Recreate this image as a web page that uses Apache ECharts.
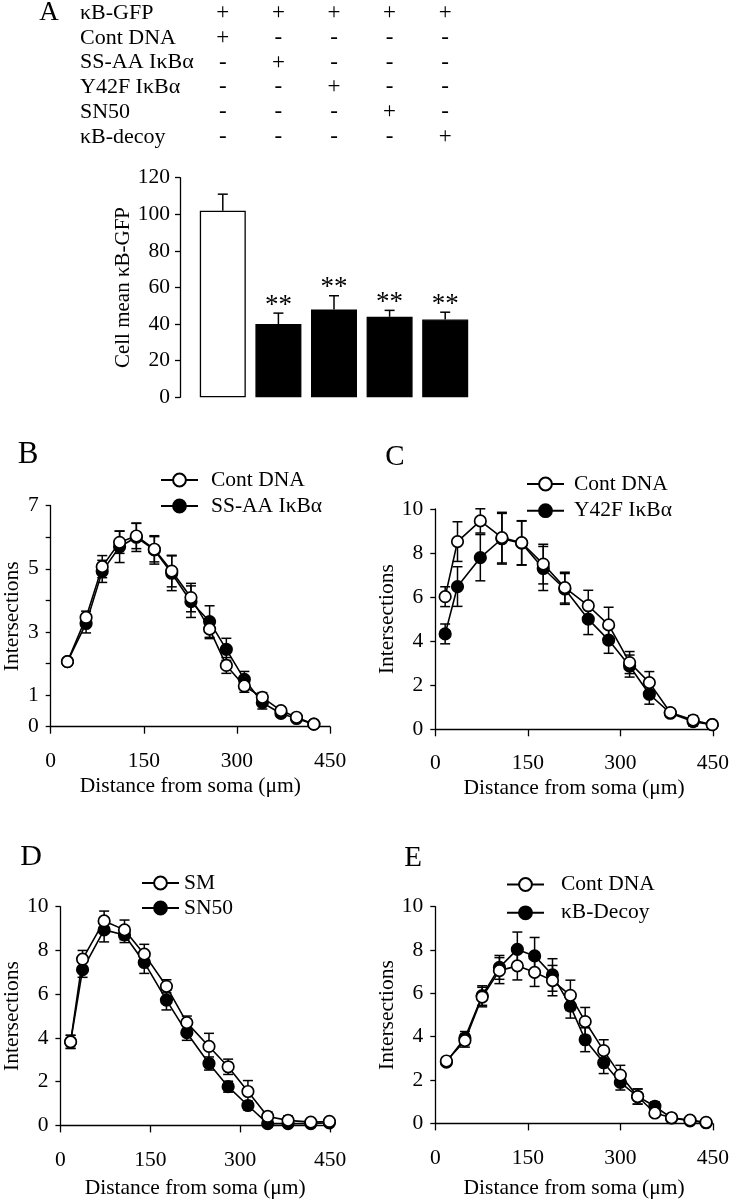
<!DOCTYPE html>
<html><head><meta charset="utf-8">
<script src="https://cdn.jsdelivr.net/npm/echarts@6/dist/echarts.min.js"></script>
<style>html,body{margin:0;padding:0;background:#fff}#c{width:732px;height:1200px}</style>
</head><body><div id="c"></div>
<script>
const FONT = '"Liberation Serif","Times New Roman",serif';

// ---- Panel A data ----
const aConditions = ['κB-GFP', 'Cont DNA', 'SS-AA IκBα', 'Y42F IκBα', 'SN50', 'κB-decoy'];
const aSigns = [
  ['+', '+', '+', '+', '+'],
  ['+', '-', '-', '-', '-'],
  ['-', '+', '-', '-', '-'],
  ['-', '-', '+', '-', '-'],
  ['-', '-', '-', '+', '-'],
  ['-', '-', '-', '-', '+']
];
const aGroups = ['Cont DNA', 'SS-AA IκBα', 'Y42F IκBα', 'SN50', 'κB-decoy'];
const aMeans = [102, 40, 48, 44, 42.5];
const aErr = [9, 6, 7.5, 3.5, 4];
const aSig = ['', '**', '**', '**', '**'];

// ---- Panel B data ----
const bDist = [27, 57, 83, 111, 138, 167, 195, 226, 256, 283, 312, 341, 371, 396, 424];
const bCont = [2.06, 3.46, 5.07, 5.84, 6.04, 5.62, 4.93, 4.09, 3.09, 1.94, 1.29, 0.93, 0.51, 0.30, 0.08];
const bContSE = [0.1, 0.2, 0.35, 0.35, 0.4, 0.4, 0.5, 0.45, 0.3, 0.25, 0.2, 0.15, 0.1, 0.08, 0.05];
const bSSAA = [2.06, 3.27, 4.92, 5.70, 6.0, 5.6, 4.86, 3.96, 3.33, 2.45, 1.5, 0.76, 0.42, 0.26, 0.08];
const bSSAASE = [0.1, 0.3, 0.35, 0.5, 0.45, 0.45, 0.55, 0.5, 0.5, 0.35, 0.25, 0.2, 0.12, 0.08, 0.05];
const bYTickLabels = [0, 1, 3, 5, 7];

// ---- Panel C data ----
const cDist = [16, 36, 73, 108, 140, 175, 210, 248, 281, 315, 347, 381, 418, 449];
const cCont = [6.02, 8.52, 9.46, 8.70, 8.47, 7.50, 6.43, 5.61, 4.74, 3.03, 2.12, 0.76, 0.42, 0.21];
const cContSE = [0.45, 0.9, 0.55, 1.15, 1.0, 0.9, 0.7, 0.7, 0.8, 0.5, 0.5, 0.15, 0.2, 0.15];
const cY42F = [4.33, 6.48, 7.79, 8.65, 8.45, 7.3, 6.37, 5.0, 4.05, 2.87, 1.59, 0.73, 0.35, 0.21];
const cY42FSE = [0.45, 0.9, 1.05, 1.15, 1.0, 1.0, 0.7, 0.7, 0.6, 0.5, 0.45, 0.15, 0.2, 0.15];

// ---- Panel D data ----
const dDist = [17, 37, 73, 107, 140, 177, 211, 248, 280, 313, 346, 380, 418, 449];
const dSM = [3.82, 7.6, 9.35, 8.94, 7.83, 6.36, 4.70, 3.61, 2.68, 1.55, 0.41, 0.23, 0.15, 0.18];
const dSMSE = [0.3, 0.4, 0.45, 0.45, 0.45, 0.3, 0.3, 0.6, 0.35, 0.5, 0.2, 0.2, 0.15, 0.12];
const dSN50 = [3.82, 7.12, 8.94, 8.71, 7.45, 5.73, 4.24, 2.83, 1.77, 0.91, 0.08, 0.08, 0.08, 0.12];
const dSN50SE = [0.3, 0.35, 0.55, 0.35, 0.5, 0.45, 0.35, 0.3, 0.25, 0.2, 0.15, 0.15, 0.15, 0.1];

// ---- Panel E data ----
const eDist = [18, 48, 76, 104, 133, 161, 190, 219, 243, 273, 300, 328, 356, 383, 413, 439];
const eCont = [2.88, 3.82, 5.83, 7.05, 7.27, 6.97, 6.59, 5.91, 4.70, 3.36, 2.23, 1.24, 0.48, 0.26, 0.15, 0.05];
const eContSE = [0.1, 0.3, 0.45, 0.6, 0.65, 0.65, 0.7, 0.7, 0.65, 0.5, 0.45, 0.35, 0.15, 0.1, 0.08, 0.08];
const eDecoy = [2.83, 3.94, 5.9, 7.2, 8.03, 7.73, 6.85, 5.41, 3.86, 2.80, 1.89, 1.24, 0.79, 0.25, 0.12, 0.03];
const eDecoySE = [0.1, 0.3, 0.45, 0.55, 0.8, 0.85, 0.75, 0.55, 0.55, 0.5, 0.35, 0.35, 0.2, 0.1, 0.08, 0.05];

const xTickValues = [0, 150, 300, 450];

// ---------------------------------------------------------------
const chart = echarts.init(document.getElementById('c'), null, {renderer: 'canvas'});
const BLACK = '#000';
const FS = 21.5;
const axisLine = {show: true, lineStyle: {color: BLACK, width: 1.3}};
const lblStyle = {color: BLACK, fontFamily: FONT, fontSize: FS};

function errRender(capHalf, upOnly, stars) {
  return function (params, api) {
    const x = api.value(0), y = api.value(1), e = api.value(2);
    const top = api.coord([x, y + e]);
    const bot = api.coord([x, upOnly ? y : y - e]);
    const st = {stroke: BLACK, lineWidth: 1.5};
    const ch = [
      {type: 'line', shape: {x1: top[0], y1: top[1], x2: bot[0], y2: bot[1]}, style: st},
      {type: 'line', shape: {x1: top[0] - capHalf, y1: top[1], x2: top[0] + capHalf, y2: top[1]}, style: st}
    ];
    if (!upOnly) ch.push({type: 'line', shape: {x1: bot[0] - capHalf, y1: bot[1], x2: bot[0] + capHalf, y2: bot[1]}, style: st});
    if (stars && stars[params.dataIndex]) {
      ch.push({type: 'text', style: {text: stars[params.dataIndex], x: top[0], y: top[1] + 6,
        align: 'center', verticalAlign: 'bottom', font: '27px ' + FONT, fill: BLACK}});
    }
    return {type: 'group', children: ch};
  };
}

function lineAxes(idx, cfg) {
  const x = {
    type: 'value', gridIndex: idx, min: 0, max: 450, interval: 150,
    offset: cfg.xOffset,
    axisLine: axisLine, axisTick: {show: true, inside: false, length: 7, lineStyle: {color: BLACK, width: 1.3}},
    axisLabel: Object.assign({margin: 11, formatter: v => xTickValues.includes(v) ? String(v) : ''}, lblStyle),
    splitLine: {show: false},
    name: 'Distance from soma (μm)', nameLocation: 'middle', nameGap: cfg.xNameGap,
    nameTextStyle: {color: BLACK, fontFamily: FONT, fontSize: FS}
  };
  const y = {
    type: 'value', gridIndex: idx, min: 0, max: cfg.yMax, interval: cfg.yInt,
    axisLine: axisLine, axisTick: {show: true, inside: false, length: 5, lineStyle: {color: BLACK, width: 1.3}},
    axisLabel: Object.assign({margin: 12, formatter: cfg.yFmt || (v => String(v))}, lblStyle),
    splitLine: {show: false},
    name: 'Intersections', nameLocation: 'middle', nameGap: cfg.yNameGap,
    nameTextStyle: {color: BLACK, fontFamily: FONT, fontSize: FS}
  };
  return [x, y];
}

function lineSeries(idx, name, dist, vals, se, filled) {
  const pts = dist.map((d, i) => [d, vals[i]]);
  const errs = dist.map((d, i) => [d, vals[i], se[i]]);
  return [
    {type: 'custom', xAxisIndex: idx, yAxisIndex: idx, z: 1, silent: true,
     renderItem: errRender(5, false), data: errs, encode: {x: 0, y: 1}},
    {type: 'line', name: name, xAxisIndex: idx, yAxisIndex: idx, z: filled ? 2 : 3,
     data: pts, symbol: 'circle', symbolSize: 11.5, showSymbol: true,
     lineStyle: {color: BLACK, width: 1.6},
     itemStyle: {color: filled ? BLACK : '#fff', borderColor: BLACK, borderWidth: 1.7}}
  ];
}

const grids = [
  {left: 195, top: 177.7, width: 278, height: 219.6},
  {left: 50.7, top: 505.7, width: 279.3, height: 221},
  {left: 435.3, top: 509, width: 279, height: 220.3},
  {left: 50.7, top: 906.7, width: 279.3, height: 220},
  {left: 435.3, top: 906.7, width: 279, height: 220}
];

const axB = lineAxes(1, {xOffset: 12.6, xNameGap: 36, yMax: 7, yInt: 1, yNameGap: 27,
  yFmt: v => bYTickLabels.includes(v) ? String(v) : ''});
const axC = lineAxes(2, {xOffset: 12.4, xNameGap: 36, yMax: 10, yInt: 2, yNameGap: 30.5});
const axD = lineAxes(3, {xOffset: 12.6, xNameGap: 39, yMax: 10, yInt: 2, yNameGap: 31});
const axE = lineAxes(4, {xOffset: 12.6, xNameGap: 41, yMax: 10, yInt: 2, yNameGap: 31.5});

const xAxes = [
  {type: 'category', gridIndex: 0, data: aGroups, axisLine: {show: false}, axisTick: {show: false},
   axisLabel: {show: false}},
  axB[0], axC[0], axD[0], axE[0]
];
const yAxes = [
  {type: 'value', gridIndex: 0, min: 0, max: 120, interval: 20, offset: 15,
   axisLine: axisLine, axisTick: {show: true, length: 5, lineStyle: {color: BLACK, width: 1.3}},
   axisLabel: Object.assign({margin: 10}, lblStyle), splitLine: {show: false},
   name: 'Cell mean κB-GFP', nameLocation: 'middle', nameGap: 45,
   nameTextStyle: {color: BLACK, fontFamily: FONT, fontSize: 21}},
  axB[1], axC[1], axD[1], axE[1]
];

function legend(left, top, names, pad, gap) {
  return {
    left: left, top: top, orient: 'vertical', data: names, itemWidth: 37, itemHeight: 16,
    itemGap: gap, selectedMode: false,
    textStyle: {color: BLACK, fontFamily: FONT, fontSize: FS, lineHeight: 24, padding: [0, 0, 0, pad]}
  };
}

const series = [
  {type: 'bar', xAxisIndex: 0, yAxisIndex: 0, barWidth: 46, z: 2,
   data: aMeans.map((v, i) => ({value: v, itemStyle: {color: i === 0 ? '#fff' : BLACK,
     borderColor: BLACK, borderWidth: 1.3}}))},
  {type: 'custom', xAxisIndex: 0, yAxisIndex: 0, z: 1, silent: true,
   renderItem: errRender(5, true, aSig), data: aMeans.map((v, i) => [i, v, aErr[i]]),
   encode: {x: 0, y: 1}},
  ...lineSeries(1, 'SS-AA IκBα', bDist, bSSAA, bSSAASE, true),
  ...lineSeries(1, 'Cont DNA', bDist, bCont, bContSE, false),
  ...lineSeries(2, 'Y42F IκBα', cDist, cY42F, cY42FSE, true),
  ...lineSeries(2, 'Cont DNA', cDist, cCont, cContSE, false),
  ...lineSeries(3, 'SN50', dDist, dSN50, dSN50SE, true),
  ...lineSeries(3, 'SM', dDist, dSM, dSMSE, false),
  ...lineSeries(4, 'κB-Decoy', eDist, eDecoy, eDecoySE, true),
  ...lineSeries(4, 'Cont DNA', eDist, eCont, eContSE, false)
];

chart.setOption({
  animation: false,
  backgroundColor: '#fff',
  textStyle: {fontFamily: FONT},
  grid: grids,
  xAxis: xAxes,
  yAxis: yAxes,
  legend: [
    legend(155, 463, ['Cont DNA', 'SS-AA IκBα'], 8, 2),
    legend(521, 467, ['Cont DNA', 'Y42F IκBα'], 5, 2.7),
    legend(136, 866, ['SM', 'SN50'], 0, 1),
    legend(501, 867.5, ['Cont DNA', 'κB-Decoy'], 12, 4.3)
  ],
  series: series
});

// Table of conditions for panel A + panel letters
const gfx = [];
const rowY0 = 13.3, rowStep = 24.7;
aConditions.forEach((c, r) => {
  gfx.push({type: 'text', x: 80, y: rowY0 + r * rowStep,
    style: {text: c, font: '22px ' + FONT, fill: BLACK, align: 'left', verticalAlign: 'middle'}});
  aSigns[r].forEach((s, k) => {
    const px = chart.convertToPixel({xAxisIndex: 0}, k);
    gfx.push({type: 'text', x: px, y: rowY0 + r * rowStep,
      style: {text: s, font: '23px ' + FONT, fill: BLACK, align: 'center', verticalAlign: 'middle'}});
  });
});
const letters = [['A', 49, 13, 27], ['B', 28, 455, 31], ['C', 395, 457, 29], ['D', 31, 857, 30], ['E', 413, 858, 29]];
letters.forEach(([t, x, y, fs]) => {
  gfx.push({type: 'text', x: x, y: y,
    style: {text: t, font: fs + 'px ' + FONT, fill: BLACK, align: 'center', verticalAlign: 'middle'}});
});
chart.setOption({graphic: gfx});
</script>
</body></html>
